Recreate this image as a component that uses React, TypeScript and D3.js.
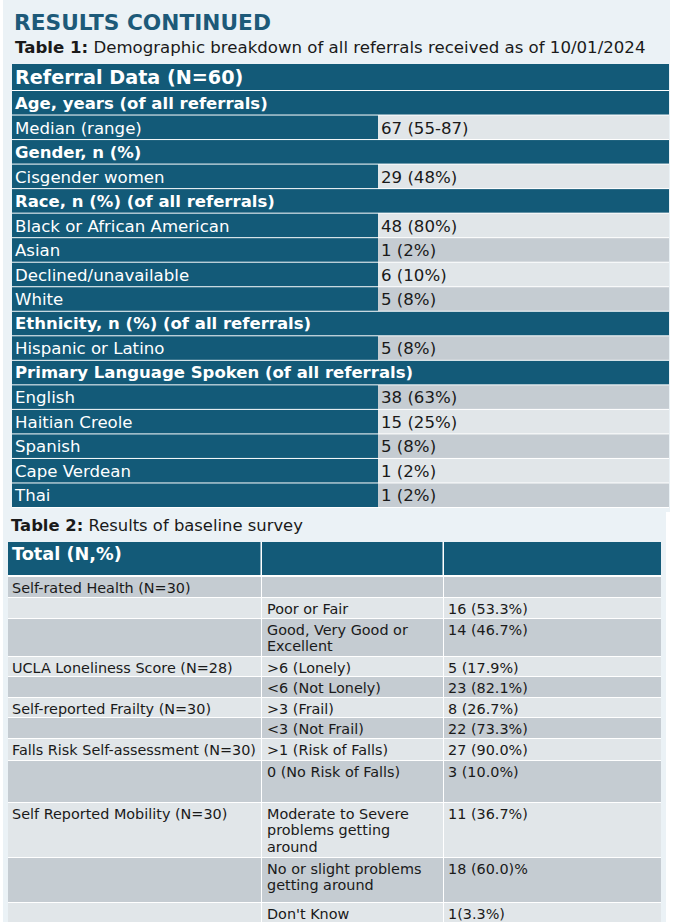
import React from "react";
import * as d3 from "d3";

// ---------- data ----------
const titleText = "RESULTS CONTINUED";
const t1CaptionBold = "Table 1:";
const t1CaptionRest = " Demographic breakdown of all referrals received as of 10/01/2024";
const t1Header = "Referral Data (N=60)";
const t1Sections = [
  "Age, years (of all referrals)",
  "Gender, n (%)",
  "Race, n (%) (of all referrals)",
  "Ethnicity, n (%) (of all referrals)",
  "Primary Language Spoken (of all referrals)",
];
const t1Labels = [
  ["Median (range)"],
  ["Cisgender women"],
  ["Black or African American", "Asian", "Declined/unavailable", "White"],
  ["Hispanic or Latino"],
  ["English", "Haitian Creole", "Spanish", "Cape Verdean", "Thai"],
];
const t1Values = [
  ["67 (55-87)"],
  ["29 (48%)"],
  ["48 (80%)", "1 (2%)", "6 (10%)", "5 (8%)"],
  ["5 (8%)"],
  ["38 (63%)", "15 (25%)", "5 (8%)", "1 (2%)", "1 (2%)"],
];
// value-cell shading per data row (0 light, 1 dark)
const t1Shade = [0, 0, 0, 1, 0, 1, 1, 1, 0, 1, 0, 1];

const t2CaptionBold = "Table 2:";
const t2CaptionRest = " Results of baseline survey";
const t2Header = ["Total (N,%)", "", ""];
const t2Measures = [
  "Self-rated Health (N=30)", "", "",
  "UCLA Loneliness Score (N=28)", "",
  "Self-reported Frailty (N=30)", "",
  "Falls Risk Self-assessment (N=30)", "",
  "Self Reported Mobility (N=30)", "", "",
];
const t2Categories = [
  [""],
  ["Poor or Fair"],
  ["Good, Very Good or", "Excellent"],
  [">6 (Lonely)"],
  ["<6 (Not Lonely)"],
  [">3 (Frail)"],
  ["<3 (Not Frail)"],
  [">1 (Risk of Falls)"],
  ["0 (No Risk of Falls)"],
  ["Moderate to Severe", "problems getting", "around"],
  ["No or slight problems", "getting around"],
  ["Don't Know"],
];
const t2Results = [
  "", "16 (53.3%)", "14 (46.7%)", "5 (17.9%)", "23 (82.1%)", "8 (26.7%)",
  "22 (73.3%)", "27 (90.0%)", "3 (10.0%)", "11 (36.7%)", "18 (60.0)%", "1(3.3%)",
];
// layout: row heights of table 2 body
const t2RowH = [21, 21, 38, 20, 21, 20, 21, 22, 42, 55, 45, 25];

// ---------- style ----------
const W = 687, H = 922;
const TEAL = "#135a78";
const PANEL = "#ebf2f6";
const LIGHT = "#e1e6e9";
const DARK = "#c5ccd2";
const FONT = "'DejaVu Sans', Verdana, sans-serif";
const INK = "#1a1a1a";

export default function App() {
  // ---- table 1 layout ----
  type Row = { kind: "head" | "section" | "data"; label: string; value?: string; shade?: number };
  const rows: Row[] = [];
  let di = 0;
  t1Sections.forEach((s, i) => {
    rows.push({ kind: "section", label: s });
    t1Labels[i].forEach((l, j) => {
      rows.push({ kind: "data", label: l, value: t1Values[i][j], shade: t1Shade[di++] });
    });
  });
  const t1Left = 12, t1Right = 669, t1Split = 378;
  const yBand = d3.scaleBand<number>().domain(d3.range(rows.length)).range([91, 508]).paddingInner(0);
  const step = yBand.step();
  const x1 = d3.scaleOrdinal<string, number>().domain(["label", "value"]).range([t1Left, t1Split]);

  // ---- table 2 layout ----
  const t2Top = 577;
  const cum = [0, ...d3.cumsum(t2RowH)];
  const y2 = d3.scaleLinear().domain([0, 1]).range([t2Top, t2Top + 1]);
  const colEdges = [8, 262, 444, 661];
  const x2 = d3.scaleOrdinal<number, number>().domain([0, 1, 2]).range(colEdges.slice(0, 3));
  const colText = [12, 267, 448];

  return (
    <svg width={W} height={H} style={{ position: "absolute", left: 0, top: 0 }} fontFamily={FONT}>
      <rect x={0} y={0} width={W} height={H} fill="#ffffff" />
      <rect x={3} y={0} width={667} height={512} fill={PANEL} />
      <rect x={3} y={512} width={663} height={H - 512} fill={PANEL} />

      <text x={14} y={30} fontSize={21.7} fontWeight="bold" fill="#1d5a79">{titleText}</text>
      <text x={15} y={53} fontSize={16.6} fill={INK}>
        <tspan fontWeight="bold">{t1CaptionBold}</tspan>
        <tspan>{t1CaptionRest}</tspan>
      </text>

      {/* table 1 */}
      <rect x={t1Left} y={64} width={t1Right - t1Left} height={444} fill="#ffffff" />
      <rect x={t1Left} y={64} width={t1Right - t1Left} height={26} fill={TEAL} />
      <text x={15} y={84} fontSize={19.2} fontWeight="bold" fill="#ffffff">{t1Header}</text>
      {rows.map((r, i) => {
        const y = yBand(i)!;
        if (r.kind === "section") {
          return (
            <g key={i}>
              <rect x={t1Left} y={y} width={t1Right - t1Left} height={step - 1} fill={TEAL} />
              <text x={15} y={y + 17.5} fontSize={16.5} fontWeight="bold" fill="#ffffff">{r.label}</text>
            </g>
          );
        }
        return (
          <g key={i}>
            <rect x={x1("label")} y={y} width={t1Split - t1Left} height={step - 1} fill={TEAL} />
            <rect x={x1("value")} y={y} width={t1Right - t1Split} height={step - 1} fill={r.shade ? DARK : LIGHT} />
            <text x={15} y={y + 18} fontSize={16.6} fill="#ffffff">{r.label}</text>
            <text x={381} y={y + 18} fontSize={16.6} fill={INK}>{r.value}</text>
          </g>
        );
      })}

      {/* table 2 */}
      <text x={11} y={531} fontSize={16.4} fill={INK}>
        <tspan fontWeight="bold">{t2CaptionBold}</tspan>
        <tspan>{t2CaptionRest}</tspan>
      </text>
      <rect x={8} y={542} width={653} height={H - 542} fill="#ffffff" />
      {t2Header.map((h, c) => (
        <g key={"h" + c}>
          <rect x={x2(c)} y={542} width={colEdges[c + 1] - colEdges[c] - (c < 2 ? 1.5 : 0)} height={33} fill={TEAL} />
          <text x={colText[c]} y={560} fontSize={17.7} fontWeight="bold" fill="#ffffff">{h}</text>
        </g>
      ))}
      {t2Measures.map((m, i) => {
        const top = y2(cum[i]);
        const h = t2RowH[i] - 1;
        const fill = i % 2 === 0 ? DARK : LIGHT;
        const cells = [[m], t2Categories[i], [t2Results[i]]];
        return (
          <g key={"r" + i}>
            {cells.map((lines, c) => (
              <g key={c}>
                <rect x={x2(c)} y={top} width={colEdges[c + 1] - colEdges[c] - (c < 2 ? 1 : 0)} height={h} fill={fill} />
                {lines.map((ln, k) => (
                  <text key={k} x={colText[c]} y={top + 15.5 + k * 16.5} fontSize={14.4} fill={INK}>{ln}</text>
                ))}
              </g>
            ))}
          </g>
        );
      })}
    </svg>
  );
}
